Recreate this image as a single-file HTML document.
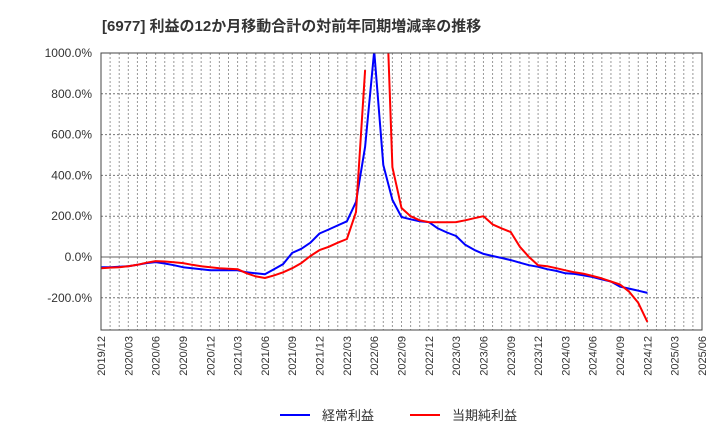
<!DOCTYPE html>
<html><head><meta charset="utf-8"><style>
body{margin:0;background:#fff;}
svg text{font-family:"Liberation Sans","Noto Sans CJK JP",sans-serif;}
</style></head><body>
<svg id="c" width="720" height="440" xmlns="http://www.w3.org/2000/svg">
<text x="102" y="31" font-size="15" font-weight="bold" fill="#333">[6977]  利益の12か月移動合計の対前年同期増減率の推移</text>
<defs><clipPath id="pc"><rect x="101" y="53" width="601" height="277"/></clipPath></defs>
<g id="grid"></g>
<g id="series" clip-path="url(#pc)"></g>
<rect x="101" y="53" width="601" height="277" fill="none" stroke="#444" stroke-width="1"/>
<g id="axes"></g>
<g>
<line x1="280" y1="415" x2="310" y2="415" stroke="#0000ff" stroke-width="2"/>
<text x="322" y="420" font-size="13" fill="#333">経常利益</text>
<line x1="410" y1="415" x2="440" y2="415" stroke="#ff0000" stroke-width="2"/>
<text x="452" y="420" font-size="13" fill="#333">当期純利益</text>
</g>
</svg>
<script>
const xTickLabels=["2019/12","2020/03","2020/06","2020/09","2020/12","2021/03","2021/06","2021/09","2021/12","2022/03","2022/06","2022/09","2022/12","2023/03","2023/06","2023/09","2023/12","2024/03","2024/06","2024/09","2024/12","2025/03","2025/06"];
const yTicks=[-200,0,200,400,600,800,1000];
const ordinaryProfit=[-50,-50,-48,-45,-38,-30,-25,-32,-40,-50,-55,-60,-65,-65,-65,-65,-75,-80,-85,-60,-35,20,40,70,115,135,155,175,270,540,1010,451,280,196,185,175,171,140,120,103,60,35,15,5,-5,-15,-28,-40,-48,-60,-68,-80,-83,-90,-98,-110,-120,-145,-155,-165,-176];
const netProfit=[-55,-52,-50,-45,-38,-28,-20,-22,-26,-30,-38,-45,-50,-55,-58,-60,-80,-95,-103,-90,-75,-55,-30,5,34,50,70,88,220,916,null,1700,440,240,200,180,171,170,170,171,180,190,200,160,140,122,50,0,-40,-45,-55,-65,-75,-82,-93,-105,-120,-135,-170,-225,-318];
const NS="http://www.w3.org/2000/svg";
const X0=101,X1=702,Y0=330,Y1=53,months=66;
const xs=m=>X0+(X1-X0)*m/months;
const ys=v=>257-v*0.204;
function mk(tag,attrs,parent){const e=document.createElementNS(NS,tag);for(const k in attrs)e.setAttribute(k,attrs[k]);parent.appendChild(e);return e;}
const grid=document.getElementById('grid'),axes=document.getElementById('axes'),ser=document.getElementById('series');
for(let m=1;m<months;m++){
 const l=mk('line',{x1:xs(m),x2:xs(m),y1:Y1,y2:Y0,stroke:'#999','stroke-width':1,'stroke-dasharray':'2,2'},grid);
 
 
}
yTicks.forEach(v=>{
 const y=ys(v);
 if(v!==1000){const l=mk('line',{x1:X0,x2:X1,y1:y,y2:y,stroke:v===0?'#666':'#777','stroke-width':1,'stroke-dasharray':v===0?'':'2,2'},grid);
 
 }
 const t=mk('text',{x:92,y:y+4,'font-size':12,fill:'#333','text-anchor':'end'},axes);
 t.textContent=v.toFixed(1)+'%';
 
 
});
xTickLabels.forEach((s,i)=>{
 const x=xs(i*3);
 const t=mk('text',{x:0,y:0,'font-size':11,fill:'#333','text-anchor':'end',transform:`translate(${x+4},336) rotate(-90)`},axes);
 t.textContent=s;
 
 
});
function draw(data,color,name){
 let segs=[],cur=[];
 data.forEach((v,i)=>{if(v===null){if(cur.length)segs.push(cur);cur=[];}else cur.push(xs(i).toFixed(1)+','+ys(v).toFixed(1));});
 if(cur.length)segs.push(cur);
 segs.forEach(s=>{
  const p=mk('polyline',{points:s.join(' '),fill:'none',stroke:color,'stroke-width':2,'stroke-linejoin':'round'},ser);
  
  
 });
}
draw(ordinaryProfit,'#0000ff','ordinary-profit-line');
draw(netProfit,'#ff0000','net-profit-line');
</script>
</body></html>
